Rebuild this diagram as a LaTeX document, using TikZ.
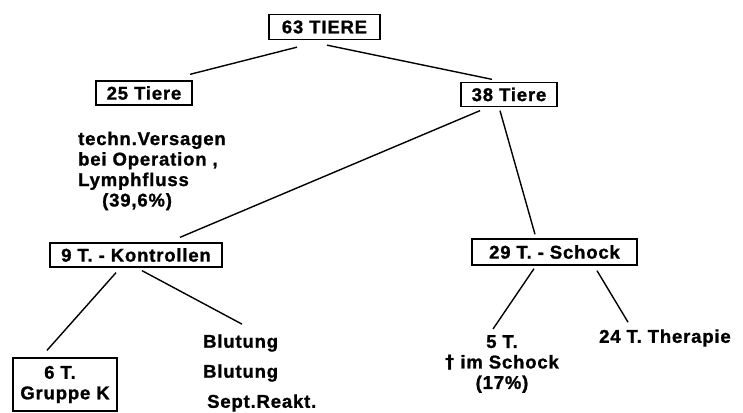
\documentclass[tikz,border=0pt]{standalone}
\usepackage{fontspec}
\setmainfont{Liberation Sans}[LetterSpace=4.5, BoldFeatures={FakeBold=1.2}]
\begin{document}
\begin{tikzpicture}[x=1pt,y=-1pt,
  every node/.style={font=\fontsize{18.5}{20.5}\selectfont\bfseries, inner sep=0pt},
  box/.style={draw, line width=1.3pt, minimum height=25pt},
  link/.style={line width=1.4pt},
  txt/.style={align=left, anchor=west}]
\useasboundingbox (0,0) rectangle (743,412);

% boxes
\node[box, minimum width=111pt] (root) at (324.5,27) {63 TIERE};
\node[box, minimum width=96pt, minimum height=24pt] (t25) at (144,93) {25 Tiere};
\node[box, minimum width=96pt, minimum height=24pt] (t38) at (509,94.5) {38 Tiere};
\node[box, minimum width=172pt, minimum height=24pt] (kon) at (136,255) {9 T. - Kontrollen};
\node[box, minimum width=165pt, minimum height=26pt] (sch) at (554.5,252) {29 T. - Schock};
\node[box, minimum width=104pt, minimum height=53pt, align=center] (g6) at (65,384.5) {\hspace*{-10pt}6 T.\\Gruppe K};

% free texts
\node[txt] (fail) at (78,171) {techn.Versagen\\bei Operation ,\\Lymphfluss\\\hspace*{24pt}(39,6\%)};
\node[anchor=west] (b1) at (203,343) {Blutung};
\node[anchor=west] (b2) at (203,373) {Blutung};
\node[anchor=west] (b3) at (207,403) {Sept.Reakt.};
\node[align=center] (d5) at (502,364) {5 T.\\{\fontspec{DejaVu Sans}[LetterSpace=0]\char"2020}\ im Schock\\(17\%)};
\node[anchor=west] (th) at (599,338) {24 T. Therapie};

% connectors
\draw[link] ([shift={(-27.5,7)}]root.south) -- ([shift={(46,-6)}]t25.north);
\draw[link] ([shift={(2.5,5)}]root.south) -- ([shift={(-17,-2.5)}]t38.north);
\draw[link] ([shift={(-29,3.5)}]t38.south) -- ([shift={(44,-5)}]kon.north);
\draw[link] ([shift={(-9,3.5)}]t38.south) -- ([shift={(-19.5,-4)}]sch.north);
\draw[link] ([shift={(-20,5)}]kon.south) -- ([shift={(-18,-7)}]g6.north);
\draw[link] ([shift={(6,3)}]kon.south) -- ([shift={(39,-10)}]b1.north west);
\draw[link] ([shift={(-20.5,3)}]sch.south) -- ([shift={(-9,-6)}]d5.north);
\draw[link] ([shift={(42.5,5)}]sch.south) -- ([shift={(29,-7)}]th.north west);
\end{tikzpicture}
\end{document}
